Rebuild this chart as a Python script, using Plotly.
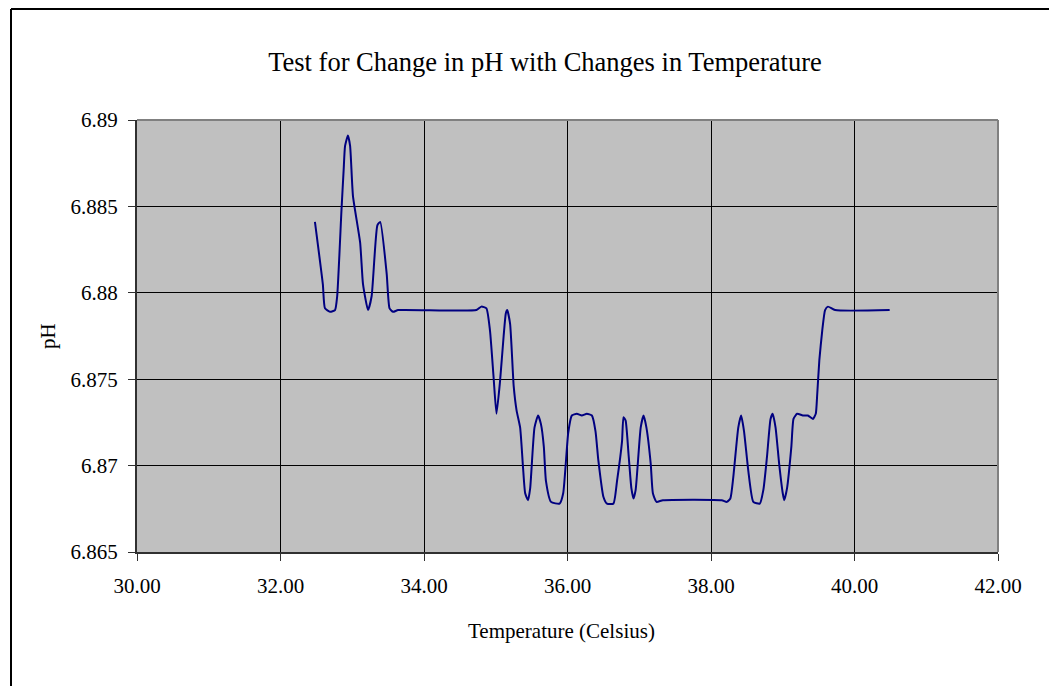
import plotly.graph_objects as go

temperature = [32.48, 32.59, 32.62, 32.69, 32.76, 32.79, 32.85, 32.88, 32.90, 32.94,
               32.97, 33.01, 33.11, 33.15, 33.22, 33.27, 33.35, 33.39, 33.48, 33.52,
               33.57, 33.64, 34.73, 34.80, 34.87, 34.92, 34.97, 35.01, 35.06, 35.11,
               35.14, 35.16, 35.20, 35.25, 35.29, 35.34, 35.38, 35.41, 35.45, 35.48,
               35.54, 35.59, 35.63, 35.67, 35.70, 35.77, 35.89, 35.94, 36.01, 36.06,
               36.13, 36.20, 36.27, 36.34, 36.39, 36.43, 36.50, 36.55, 36.64, 36.69,
               36.76, 36.78, 36.81, 36.85, 36.89, 36.92, 36.95, 37.02, 37.06, 37.10,
               37.16, 37.19, 37.24, 37.33, 38.15, 38.22, 38.27, 38.31, 38.38, 38.42,
               38.46, 38.52, 38.59, 38.68, 38.73, 38.78, 38.83, 38.86, 38.90, 38.95,
               39.00, 39.02, 39.06, 39.12, 39.15, 39.20, 39.28, 39.35, 39.42, 39.46,
               39.48, 39.51, 39.55, 39.59, 39.63, 39.73, 40.49]
ph = [6.8841, 6.8805, 6.8791, 6.8789, 6.8790, 6.8798, 6.8848, 6.8871, 6.8885, 6.8891,
      6.8885, 6.8856, 6.8829, 6.8805, 6.8790, 6.8798, 6.8839, 6.8841, 6.8811, 6.8791,
      6.8789, 6.8790, 6.8790, 6.8792, 6.8791, 6.8778, 6.8751, 6.8730, 6.8749, 6.8775,
      6.8788, 6.8790, 6.8782, 6.8746, 6.8732, 6.8722, 6.8699, 6.8684, 6.8680, 6.8687,
      6.8722, 6.8729, 6.8724, 6.8711, 6.8691, 6.8679, 6.8678, 6.8684, 6.8719, 6.8729,
      6.8730, 6.8729, 6.8730, 6.8729, 6.8720, 6.8703, 6.8682, 6.8678, 6.8678, 6.8691,
      6.8714, 6.8728, 6.8726, 6.8707, 6.8687, 6.8681, 6.8686, 6.8722, 6.8729, 6.8722,
      6.8701, 6.8684, 6.8679, 6.8680, 6.8680, 6.8679, 6.8681, 6.8693, 6.8722, 6.8729,
      6.8720, 6.8697, 6.8679, 6.8678, 6.8686, 6.8705, 6.8727, 6.8730, 6.8722, 6.8701,
      6.8684, 6.8680, 6.8687, 6.8711, 6.8727, 6.8730, 6.8729, 6.8729, 6.8727, 6.8730,
      6.8741, 6.8761, 6.8778, 6.8790, 6.8792, 6.8790, 6.8790]

x_ticks = [30, 32, 34, 36, 38, 40, 42]
y_ticks = [6.865, 6.87, 6.875, 6.88, 6.885, 6.89]

FONT = "Liberation Serif, Times New Roman, serif"

# figure is placed at an 8px page offset, so its size is reduced accordingly
W, H = 1049, 678
L, R, T, B = 129, 59, 112, 134
PW = W - L - R
PH = H - T - B

fig = go.Figure()
fig.add_trace(go.Scatter(
    x=temperature, y=ph, mode="lines",
    line=dict(color="#000080", width=2, shape="spline", smoothing=0.5),
    showlegend=False, hoverinfo="x+y",
))

fx = lambda px: (px - L) / PW
fy = lambda py: (H - B - py) / PH

fig.update_layout(
    width=W, height=H,
    margin=dict(l=L, r=R, t=T, b=B),
    paper_bgcolor="white",
    plot_bgcolor="#C0C0C0",
    font=dict(family=FONT, size=21, color="black"),
    title=dict(text="Test for Change in pH with Changes in Temperature",
               x=(537) / W, xref="container", y=1 - 54 / H, yref="container",
               xanchor="center", yanchor="middle",
               font=dict(family=FONT, size=26.5, color="black")),
    xaxis=dict(range=[30, 42], tickvals=x_ticks, tickformat=".2f",
               showgrid=True, gridcolor="black", gridwidth=1,
               showline=True, linecolor="#303030", linewidth=2,
               ticks="outside", ticklen=7, tickcolor="#303030",
               ticklabelstandoff=7, zeroline=False,
               tickfont=dict(family=FONT, size=21, color="black")),
    yaxis=dict(range=[6.865, 6.89], tickvals=y_ticks,
               showgrid=True, gridcolor="black", gridwidth=1,
               showline=True, linecolor="#303030", linewidth=2,
               ticks="outside", ticklen=7, tickcolor="#303030",
               ticklabelstandoff=6, zeroline=False,
               tickfont=dict(family=FONT, size=21, color="black")),
    annotations=[
        dict(text="Temperature (Celsius)", x=fx(553), y=fy(623),
             xref="paper", yref="paper", showarrow=False,
             xanchor="center", yanchor="middle",
             font=dict(family=FONT, size=21, color="black")),
        dict(text="pH", x=fx(40), y=0.5, textangle=-90,
             xref="paper", yref="paper", showarrow=False,
             xanchor="center", yanchor="middle",
             font=dict(family=FONT, size=21, color="black")),
    ],
    shapes=[
        dict(type="line", xref="paper", yref="paper", x0=0, x1=1, y0=1, y1=1,
             line=dict(color="#808080", width=2)),
        dict(type="line", xref="paper", yref="paper", x0=1, x1=1, y0=0, y1=1,
             line=dict(color="#808080", width=2)),
        dict(type="line", xref="paper", yref="paper",
             x0=fx(3), x1=1.3, y0=fy(1), y1=fy(1),
             line=dict(color="black", width=2)),
        dict(type="line", xref="paper", yref="paper",
             x0=fx(3), x1=fx(3), y0=fy(1), y1=-0.6,
             line=dict(color="black", width=2)),
    ],
)

fig.write_html("out.html")
